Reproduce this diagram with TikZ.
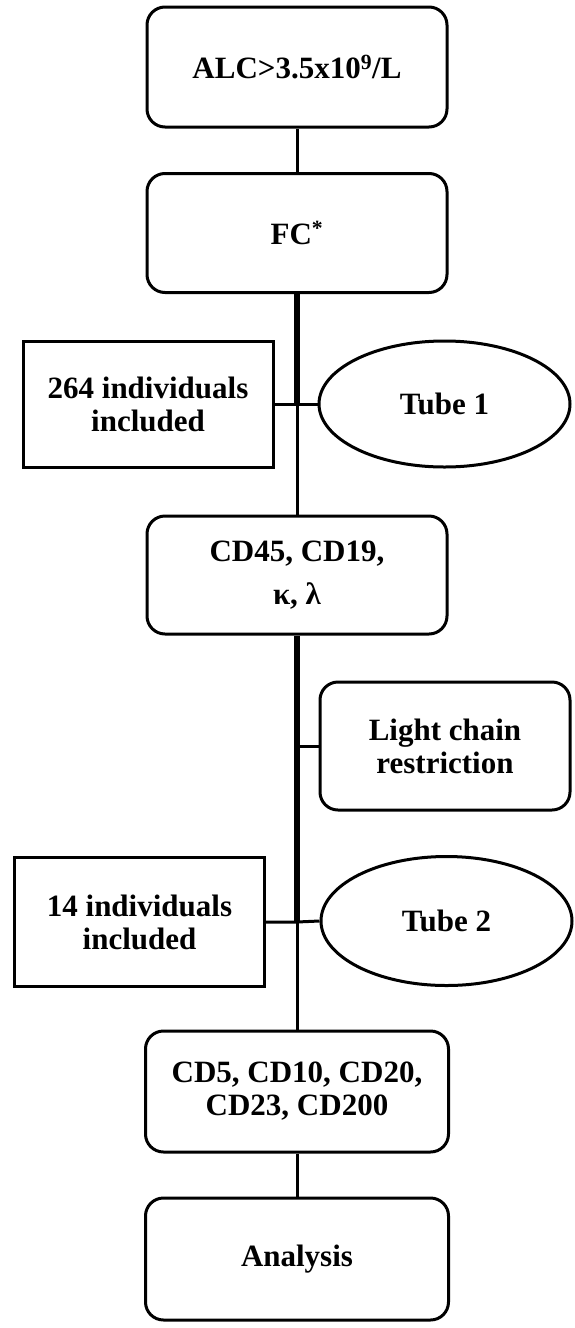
\documentclass[tikz,border=0pt]{standalone}
\usepackage{fontspec}
\setmainfont{Liberation Serif}
\usetikzlibrary{shapes.geometric}
\begin{document}
\begin{tikzpicture}[x=1pt,y=-1pt,
  txt/.style={font=\fontsize{31}{33}\selectfont\bfseries, align=center, inner sep=0pt},
  mainbox/.style={txt, draw, line width=3pt, rounded corners=18pt, minimum width=300pt},
  sqbox/.style={txt, draw, line width=3pt, minimum width=250pt},
  ellbox/.style={txt, draw, ellipse, line width=3pt, minimum width=251pt},
  thinline/.style={line width=3pt},
  thickline/.style={line width=6pt}]
\useasboundingbox (0,0) rectangle (575,1328);
\fill[white] (0,0) rectangle (575,1328);
\node[mainbox, minimum height=120pt] (alc) at (297,67) {ALC>3.5x10\textsuperscript{9}/L};
\node[mainbox, minimum height=119pt] (fc) at (297,233) {FC\textsuperscript{*}};
\node[sqbox, minimum height=126pt] (inc1) at (148,404) {264 individuals\\included};
\node[ellbox, minimum height=126pt] (tube1) at (444.5,404) {Tube 1};
\node[mainbox, minimum height=118pt] (cd45) at (297,575) {CD45, CD19,\\[10pt]κ, λ};
\node[mainbox, minimum width=250pt, minimum height=128pt] (light) at (445,746) {Light chain\\restriction};
\node[sqbox, minimum height=129pt] (inc2) at (139.5,922) {14 individuals\\included};
\node[ellbox, minimum height=129pt] (tube2) at (446.5,921) {Tube 2};
\node[mainbox, minimum width=303pt, minimum height=121pt] (cd5) at (297,1091.5) {CD5, CD10, CD20,\\CD23, CD200};
\node[mainbox, minimum width=303pt, minimum height=122pt] (ana) at (297,1259) {Analysis};
\coordinate (j1) at (fc.south |- inc1.east);
\coordinate (j2) at (cd45.south |- light.west);
\coordinate (j3) at (cd45.south |- inc2.east);
\draw[thinline] (alc.south) -- (fc.north);
\draw[thickline] (fc.south) -- (j1);
\draw[thinline] (j1) -- (cd45.north);
\draw[thickline] (cd45.south) -- (j3);
\draw[thinline] (j3) -- (cd5.north);
\draw[thinline] (cd5.south) -- (ana.north);
\draw[thinline] (inc1.east) -- (tube1.west);
\draw[thinline] (j2) -- (light.west);
\draw[thinline] (inc2.east) -- (j3 |- inc2.east) -- (tube2.west);
\end{tikzpicture}
\end{document}
